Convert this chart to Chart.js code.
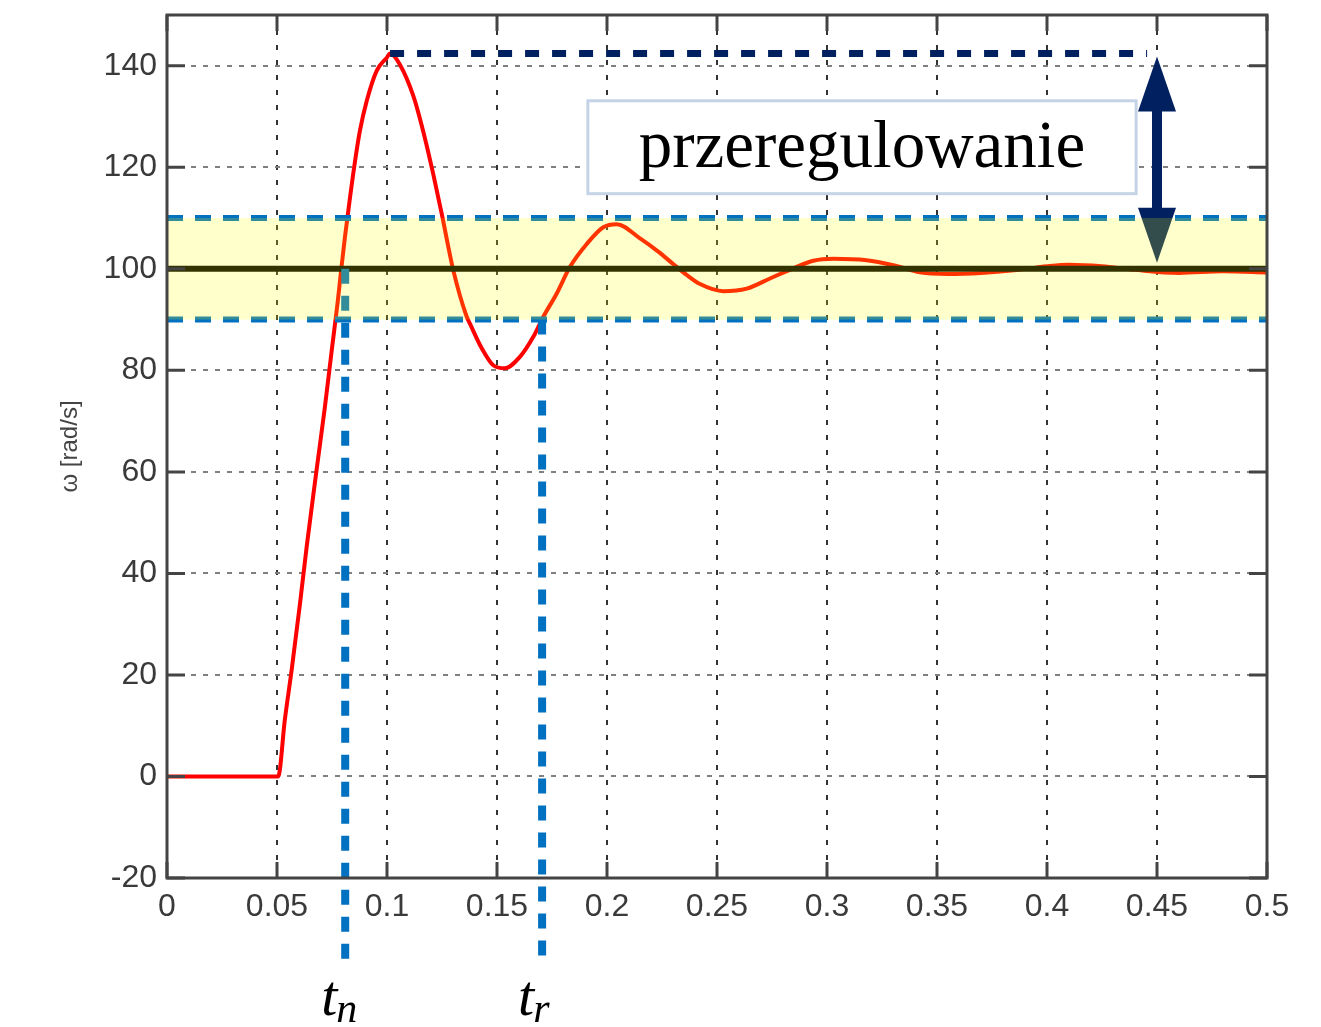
<!DOCTYPE html>
<html>
<head>
<meta charset="utf-8">
<script src="https://cdn.jsdelivr.net/npm/chart.js@4.4.0/dist/chart.umd.min.js"></script>
<style>
  html, body { margin: 0; padding: 0; background: #fff; }
  #wrap { width: 1321px; height: 1027px; }
</style>
</head>
<body>
<div id="wrap"><canvas id="omegaChart"></canvas></div>
<script>
// speed response (time in s, omega in rad/s)
const timeS = [0, 0.0505, 0.0536, 0.0567, 0.0605, 0.0635, 0.068, 0.0718, 0.0749, 0.0776, 0.0791,
  0.0809, 0.0832, 0.0855, 0.0877, 0.0908, 0.0953, 0.0999, 0.1014, 0.1059, 0.112, 0.1165, 0.1211,
  0.1249, 0.1302, 0.1362, 0.1377, 0.143, 0.1483, 0.1536, 0.1605, 0.1665, 0.1711, 0.1771, 0.1832,
  0.1908, 0.1983, 0.2044, 0.215, 0.2233, 0.2302, 0.2362, 0.2423, 0.2529, 0.2635, 0.2741, 0.2847,
  0.2938, 0.3029, 0.318, 0.3302, 0.3423, 0.355, 0.37, 0.385, 0.40, 0.41, 0.425, 0.44, 0.46, 0.48, 0.5];
const omegaRad = [0, 0, 11.3, 21.1, 34.2, 45.3, 60.4, 72.9, 84.0, 93.5, 99.5,
  106.3, 114.1, 121.3, 127.2, 133.1, 139.0, 141.6, 142.4, 140.2, 134.0, 127.0, 118.5,
  110.8, 99.6, 90.6, 89.2, 84.4, 81.0, 80.4, 82.7, 86.6, 90.6, 95.1, 100.4,
  104.9, 108.2, 108.8, 106.0, 103.4, 100.9, 98.8, 97.0, 95.6, 96.1, 98.1, 100.1,
  101.6, 102.0, 101.7, 100.7, 99.3, 99.0, 99.2, 99.7, 100.5, 100.8, 100.5, 99.8, 99.2, 99.5, 99.3];

const setpoint = 100;
const bandLow = 90;
const bandHigh = 110;
const peakTime = 0.1014;
const peakValue = 142.4;
const peakLineEnd = 0.4455;
const arrowTime = 0.45;
const tnTime = 0.081;
const trTime = 0.1705;

const xMin = 0, xMax = 0.5, xStep = 0.05;
const yMin = -20, yMax = 150, yStep = 20;

Chart.defaults.font.family = '"Liberation Sans", Arial, sans-serif';

const hline = (v, x0, x1) => [{ x: x0, y: v }, { x: x1, y: v }];

const extras = {
  id: 'extras',
  afterDatasetsDraw(chart) {
    const { ctx, chartArea: a, scales: { x, y } } = chart;
    ctx.save();

    // t_n, t_r markers
    ctx.strokeStyle = '#0070C0';
    ctx.lineWidth = 8;
    ctx.setLineDash([15, 12]);
    [[tnTime, setpoint, 86], [trTime, bandLow, 81]].forEach(([t, v, below]) => {
      const px = x.getPixelForValue(t);
      ctx.beginPath();
      ctx.moveTo(px, y.getPixelForValue(v));
      ctx.lineTo(px, a.bottom + below);
      ctx.stroke();
    });
    ctx.setLineDash([]);

    // overshoot arrow
    const ax = x.getPixelForValue(arrowTime);
    const top = y.getPixelForValue(peakValue) + 3;
    const bot = y.getPixelForValue(101.2);
    const hh = 55, hw = 19;
    ctx.fillStyle = '#002060';
    ctx.fillRect(ax - 5, top + hh - 2, 10, bot - top - 2 * hh + 4);
    ctx.beginPath();
    ctx.moveTo(ax, top); ctx.lineTo(ax + hw, top + hh); ctx.lineTo(ax - hw, top + hh);
    ctx.closePath(); ctx.fill();
    ctx.beginPath();
    ctx.moveTo(ax, bot); ctx.lineTo(ax + hw, bot - hh); ctx.lineTo(ax - hw, bot - hh);
    ctx.closePath(); ctx.fill();

    // tolerance band (translucent, over the curves)
    const yb1 = y.getPixelForValue(bandHigh), yb2 = y.getPixelForValue(bandLow);
    ctx.fillStyle = 'rgba(255,255,0,0.2)';
    ctx.fillRect(a.left, yb1, a.right - a.left, yb2 - yb1);

    // label box
    const bx1 = x.getPixelForValue(0.1913), bx2 = x.getPixelForValue(0.4405);
    const by1 = y.getPixelForValue(133.1), by2 = y.getPixelForValue(114.8);
    ctx.fillStyle = '#fff';
    ctx.fillRect(bx1, by1, bx2 - bx1, by2 - by1);
    ctx.strokeStyle = '#C5D3E6';
    ctx.lineWidth = 3;
    ctx.strokeRect(bx1, by1, bx2 - bx1, by2 - by1);
    ctx.fillStyle = '#000';
    ctx.font = '67px "Liberation Serif", "Times New Roman", serif';
    ctx.textAlign = 'center';
    ctx.textBaseline = 'alphabetic';
    ctx.fillText('przeregulowanie', (bx1 + bx2) / 2, by1 + 66);

    // inward ticks and box
    ctx.strokeStyle = '#444';
    ctx.lineWidth = 3;
    ctx.beginPath();
    x.ticks.forEach(t => {
      const px = x.getPixelForValue(t.value);
      ctx.moveTo(px, a.bottom); ctx.lineTo(px, a.bottom - 16);
      ctx.moveTo(px, a.top); ctx.lineTo(px, a.top + 16);
    });
    y.ticks.forEach(t => {
      const py = y.getPixelForValue(t.value);
      ctx.moveTo(a.left, py); ctx.lineTo(a.left + 18, py);
      ctx.moveTo(a.right, py); ctx.lineTo(a.right - 18, py);
    });
    ctx.stroke();
    ctx.strokeRect(a.left, a.top, a.right - a.left, a.bottom - a.top);

    // t_n / t_r labels
    ctx.fillStyle = '#000';
    ctx.textAlign = 'left';
    [[tnTime, 'n', -24], [trTime, 'r', -24]].forEach(([t, sub, dx]) => {
      const px = x.getPixelForValue(t) + dx;
      ctx.font = 'italic 58px "Liberation Serif", "Times New Roman", serif';
      ctx.fillText('t', px, a.bottom + 137);
      const w = ctx.measureText('t').width;
      ctx.font = 'italic 42px "Liberation Serif", "Times New Roman", serif';
      ctx.fillText(sub, px + w - 1, a.bottom + 144);
    });
    ctx.restore();
  }
};

new Chart(document.getElementById('omegaChart'), {
  type: 'line',
  data: {
    datasets: [
      { data: hline(bandHigh, xMin, xMax), borderColor: '#0070C0', borderWidth: 6, borderDash: [16, 12] },
      { data: hline(bandLow, xMin, xMax), borderColor: '#0070C0', borderWidth: 6, borderDash: [16, 12] },
      { data: hline(setpoint, xMin, xMax), borderColor: '#000', borderWidth: 6 },
      { data: hline(peakValue, peakTime, peakLineEnd), borderColor: '#002060', borderWidth: 7, borderDash: [14, 13] },
      { data: timeS.map((t, i) => ({ x: t, y: omegaRad[i] })), borderColor: '#FF0000', borderWidth: 4,
        cubicInterpolationMode: 'monotone' }
    ]
  },
  options: {
    responsive: true,
    maintainAspectRatio: false,
    animation: false,
    layout: { padding: { top: 0, right: 54, bottom: 0, left: 0 } },
    elements: { point: { radius: 0 } },
    plugins: { legend: { display: false }, tooltip: { enabled: false } },
    scales: {
      x: {
        type: 'linear', min: xMin, max: xMax,
        afterFit: s => { s.height = 149; },
        ticks: { stepSize: xStep, color: '#3a3a3a', font: { size: 32 }, padding: 10, maxRotation: 0,
          callback: v => String(parseFloat(v.toFixed(3))) },
        grid: { color: '#333', lineWidth: 2, drawTicks: false },
        border: { display: false, dash: [5, 10] }
      },
      y: {
        min: yMin, max: yMax,
        afterFit: s => { s.width = 167; s.paddingTop = 15; s.paddingBottom = 0; },
        ticks: { stepSize: yStep, includeBounds: false, color: '#3a3a3a', font: { size: 32 }, padding: 10 },
        grid: { color: '#808080', lineWidth: 2, drawTicks: false },
        border: { display: false, dash: [5, 7] },
        title: { display: true, text: 'ω [rad/s]', color: '#444', font: { size: 24 }, padding: { top: 56 } }
      }
    }
  },
  plugins: [extras]
});
</script>
</body>
</html>
